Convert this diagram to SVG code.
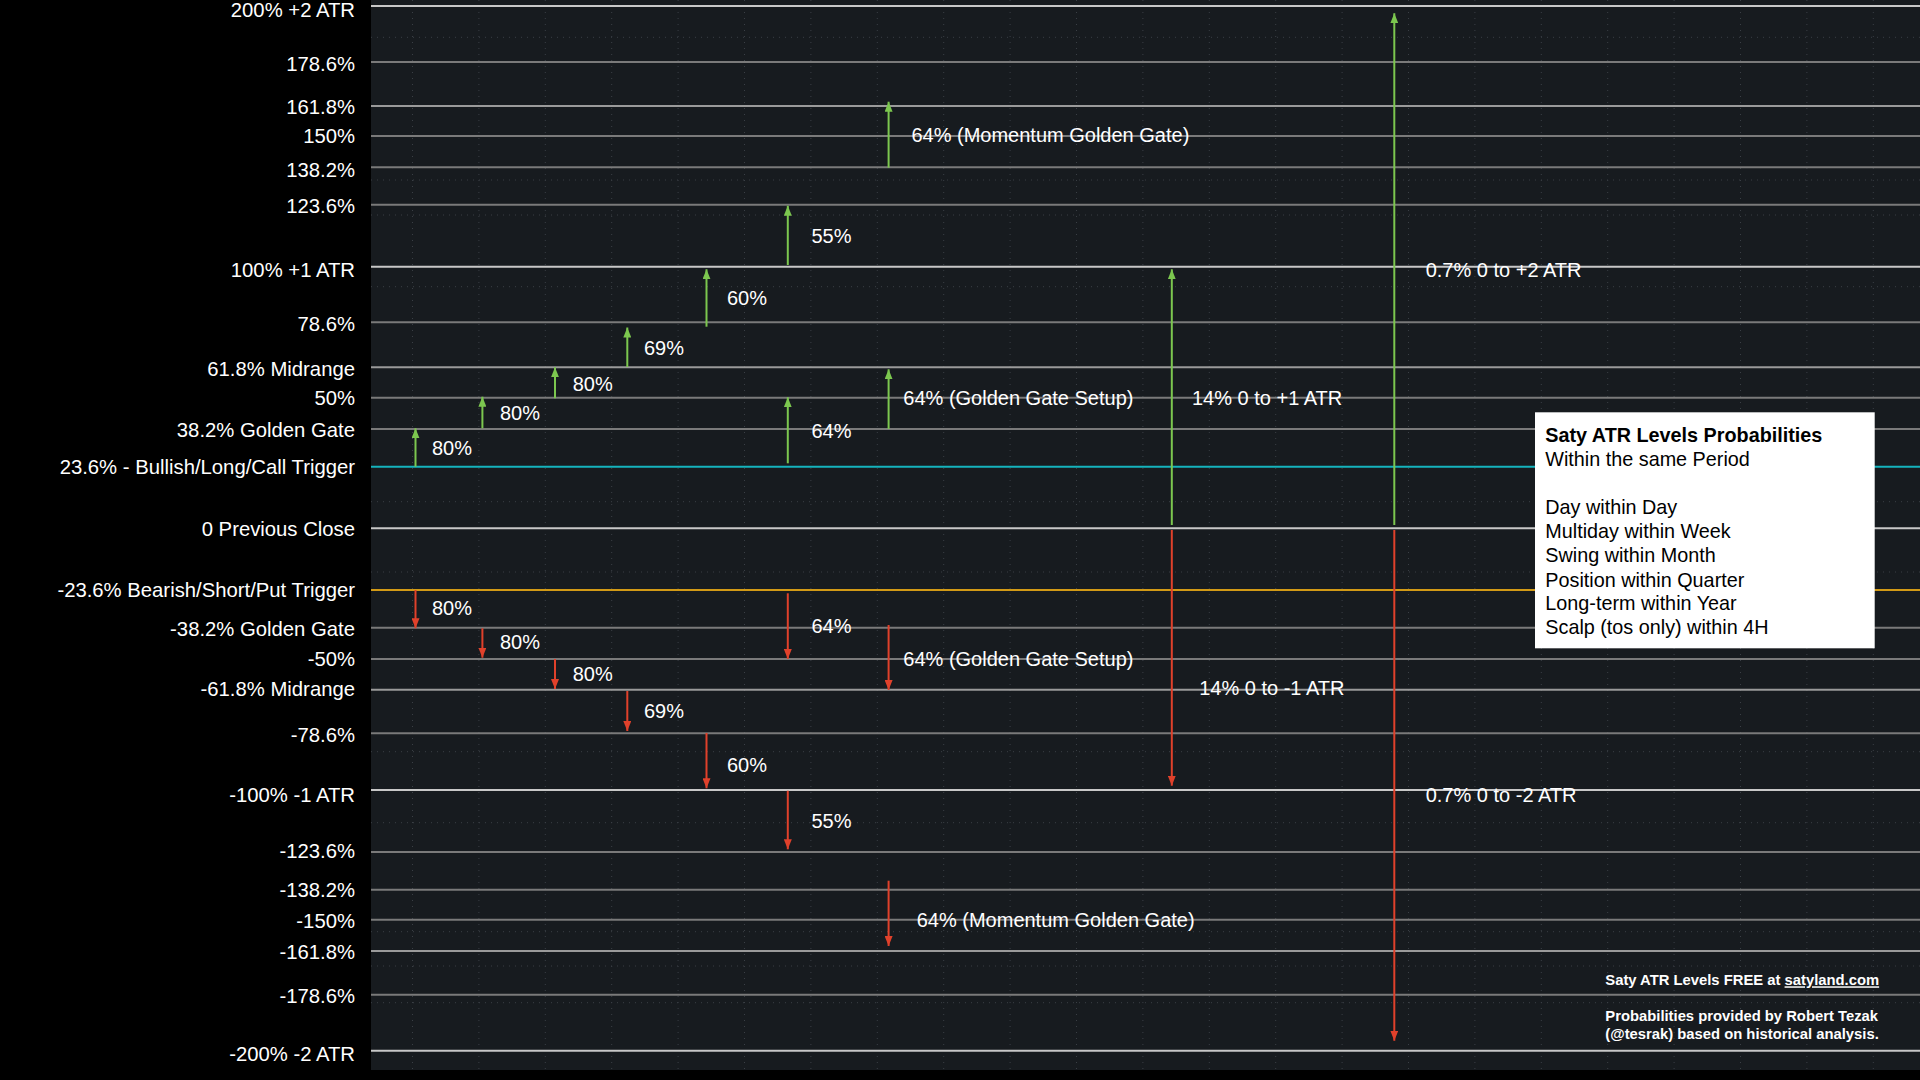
<svg xmlns="http://www.w3.org/2000/svg" width="1920" height="1080" viewBox="0 0 1920 1080">
<style>
.lbl{font-family:"Liberation Sans",Arial,sans-serif;font-size:20.3px;fill:#ffffff;text-anchor:end}
.t{font-family:"Liberation Sans",Arial,sans-serif;font-size:20px;fill:#ffffff}
.lv{stroke:#7a7a7a;stroke-width:2}
.mj{stroke:#c8c8c8;stroke-width:2}
.grid{stroke:#3a3f45;stroke-width:1;stroke-dasharray:1 5}
.up{stroke:#7cc74f;stroke-width:2;fill:none;marker-end:url(#ga)}
.dn{stroke:#e0412b;stroke-width:2;fill:none;marker-end:url(#ra)}
.lg{font-family:"Liberation Sans",Arial,sans-serif;font-size:19.8px;fill:#000000}
.ft{font-family:"Liberation Sans",Arial,sans-serif;font-size:14.8px;font-weight:bold;fill:#ffffff}
</style>
<defs>
<marker id="ga" markerUnits="userSpaceOnUse" markerWidth="10" markerHeight="8" refX="10" refY="4" orient="auto"><path d="M0,0 L10,4 L0,8 z" fill="#7cc74f"/></marker>
<marker id="ra" markerUnits="userSpaceOnUse" markerWidth="10" markerHeight="8" refX="10" refY="4" orient="auto"><path d="M0,0 L10,4 L0,8 z" fill="#e0412b"/></marker>
</defs>
<rect x="0" y="0" width="1920" height="1080" fill="#000000"/>
<rect x="371" y="0" width="1549" height="1070" fill="#171b1f"/>
<g id="grid">
<path class="grid" d="M412.5,0V1070M478.9,0V1070M545.3,0V1070M611.7,0V1070M678.1,0V1070M744.5,0V1070M810.9,0V1070M877.3,0V1070M943.7,0V1070M1010.1,0V1070M1076.5,0V1070M1142.9,0V1070M1209.3,0V1070M1275.7,0V1070M1342.1,0V1070M1408.5,0V1070M1474.9,0V1070M1541.3,0V1070M1607.7,0V1070M1674.1,0V1070M1740.5,0V1070M1806.9,0V1070M1873.3,0V1070"/>
<path class="grid" d="M371,37.3H1920M371,180H1920M371,215H1920M371,286.7H1920M371,501.7H1920M371,572H1920M371,751.7H1920M371,822.7H1920M371,931.7H1920M371,966H1920M371,1002.7H1920"/>
</g>
<g id="levels">
<g id="lv-p200"><line class="mj" x1="371" y1="6" x2="1920" y2="6"/><text class="lbl" x="355" y="17">200% +2 ATR</text></g>
<g id="lv-p1786"><line class="lv" x1="371" y1="62" x2="1920" y2="62"/><text class="lbl" x="355" y="70.5">178.6%</text></g>
<g id="lv-p1618"><line class="lv" x1="371" y1="106" x2="1920" y2="106" style="stroke:#9a9a9a"/><text class="lbl" x="355" y="114">161.8%</text></g>
<g id="lv-p150"><line class="lv" x1="371" y1="136" x2="1920" y2="136"/><text class="lbl" x="355" y="143">150%</text></g>
<g id="lv-p1382"><line class="lv" x1="371" y1="167.3" x2="1920" y2="167.3"/><text class="lbl" x="355" y="176.5">138.2%</text></g>
<g id="lv-p1236"><line class="lv" x1="371" y1="204.7" x2="1920" y2="204.7"/><text class="lbl" x="355" y="213">123.6%</text></g>
<g id="lv-p100"><line class="mj" x1="371" y1="266.7" x2="1920" y2="266.7"/><text class="lbl" x="355" y="276.5">100% +1 ATR</text></g>
<g id="lv-p786"><line class="lv" x1="371" y1="322.3" x2="1920" y2="322.3"/><text class="lbl" x="355" y="330.5">78.6%</text></g>
<g id="lv-p618"><line class="lv" x1="371" y1="367.3" x2="1920" y2="367.3" style="stroke:#9a9a9a"/><text class="lbl" x="355" y="375.5">61.8% Midrange</text></g>
<g id="lv-p50"><line class="lv" x1="371" y1="397.7" x2="1920" y2="397.7"/><text class="lbl" x="355" y="405">50%</text></g>
<g id="lv-p382"><line class="lv" x1="371" y1="429" x2="1920" y2="429"/><text class="lbl" x="355" y="437.3">38.2% Golden Gate</text></g>
<g id="lv-p236"><line x1="371" y1="466.7" x2="1920" y2="466.7" stroke="#15b3bd" stroke-width="2"/><text class="lbl" x="355" y="474.3">23.6% - Bullish/Long/Call Trigger</text></g>
<g id="lv-0"><line class="mj" x1="371" y1="528.3" x2="1920" y2="528.3"/><text class="lbl" x="355" y="535.7">0 Previous Close</text></g>
<g id="lv-m236"><line x1="371" y1="590" x2="1920" y2="590" stroke="#d29a16" stroke-width="2"/><text class="lbl" x="355" y="597.3">-23.6% Bearish/Short/Put Trigger</text></g>
<g id="lv-m382"><line class="lv" x1="371" y1="627.7" x2="1920" y2="627.7"/><text class="lbl" x="355" y="636">-38.2% Golden Gate</text></g>
<g id="lv-m50"><line class="lv" x1="371" y1="659" x2="1920" y2="659"/><text class="lbl" x="355" y="666">-50%</text></g>
<g id="lv-m618"><line class="lv" x1="371" y1="689.7" x2="1920" y2="689.7" style="stroke:#9a9a9a"/><text class="lbl" x="355" y="695.5">-61.8% Midrange</text></g>
<g id="lv-m786"><line class="lv" x1="371" y1="733.3" x2="1920" y2="733.3"/><text class="lbl" x="355" y="742.3">-78.6%</text></g>
<g id="lv-m100"><line class="mj" x1="371" y1="790" x2="1920" y2="790"/><text class="lbl" x="355" y="801.5">-100% -1 ATR</text></g>
<g id="lv-m1236"><line class="lv" x1="371" y1="852" x2="1920" y2="852"/><text class="lbl" x="355" y="858">-123.6%</text></g>
<g id="lv-m1382"><line class="lv" x1="371" y1="889.7" x2="1920" y2="889.7"/><text class="lbl" x="355" y="896.7">-138.2%</text></g>
<g id="lv-m150"><line class="lv" x1="371" y1="919.7" x2="1920" y2="919.7"/><text class="lbl" x="355" y="927.7">-150%</text></g>
<g id="lv-m1618"><line class="lv" x1="371" y1="951" x2="1920" y2="951" style="stroke:#9a9a9a"/><text class="lbl" x="355" y="959">-161.8%</text></g>
<g id="lv-m1786"><line class="lv" x1="371" y1="994.7" x2="1920" y2="994.7"/><text class="lbl" x="355" y="1002.7">-178.6%</text></g>
<g id="lv-m200"><line class="mj" x1="371" y1="1050.7" x2="1920" y2="1050.7"/><text class="lbl" x="355" y="1060.7">-200% -2 ATR</text></g>
</g>
<g id="connectors">
<line class="up" x1="415.5" y1="466.7" x2="415.5" y2="428.3"/>
<line class="up" x1="482.4" y1="428.3" x2="482.4" y2="396.7"/>
<line class="up" x1="555" y1="398.3" x2="555" y2="367.3"/>
<line class="up" x1="627.3" y1="367" x2="627.3" y2="327.5"/>
<line class="up" x1="706.5" y1="326.7" x2="706.5" y2="269.3"/>
<line class="up" x1="787.8" y1="265" x2="787.8" y2="205.7"/>
<line class="up" x1="888.6" y1="167.7" x2="888.6" y2="101.7"/>
<line class="up" x1="787.8" y1="463.3" x2="787.8" y2="397.3"/>
<line class="up" x1="888.6" y1="429" x2="888.6" y2="369.3"/>
<line class="up" x1="1171.8" y1="525" x2="1171.8" y2="269.3"/>
<line class="up" x1="1394.3" y1="525" x2="1394.3" y2="13.3"/>
<line class="dn" x1="415.5" y1="590" x2="415.5" y2="628.3"/>
<line class="dn" x1="482.4" y1="628.3" x2="482.4" y2="657.7"/>
<line class="dn" x1="555" y1="659" x2="555" y2="689"/>
<line class="dn" x1="627.3" y1="691" x2="627.3" y2="731"/>
<line class="dn" x1="706.5" y1="733" x2="706.5" y2="788.3"/>
<line class="dn" x1="787.8" y1="790.7" x2="787.8" y2="849.3"/>
<line class="dn" x1="888.6" y1="880.7" x2="888.6" y2="946"/>
<line class="dn" x1="787.8" y1="593.3" x2="787.8" y2="659"/>
<line class="dn" x1="888.6" y1="625" x2="888.6" y2="690"/>
<line class="dn" x1="1171.8" y1="530" x2="1171.8" y2="785.7"/>
<line class="dn" x1="1394.3" y1="530" x2="1394.3" y2="1040.7"/>
</g>
<g id="arrow-labels">
<text class="t" x="432" y="455">80%</text>
<text class="t" x="500" y="420">80%</text>
<text class="t" x="572.7" y="390.7">80%</text>
<text class="t" x="644" y="355">69%</text>
<text class="t" x="727" y="305">60%</text>
<text class="t" x="811.4" y="243.3">55%</text>
<text class="t" x="911.4" y="141.5">64% (Momentum Golden Gate)</text>
<text class="t" x="811.4" y="438.3">64%</text>
<text class="t" x="903.3" y="405">64% (Golden Gate Setup)</text>
<text class="t" x="1192" y="405">14% 0 to +1 ATR</text>
<text class="t" x="1425.7" y="276.7">0.7% 0 to +2 ATR</text>
<text class="t" x="432" y="615">80%</text>
<text class="t" x="500" y="649.3">80%</text>
<text class="t" x="572.7" y="681">80%</text>
<text class="t" x="644" y="718.3">69%</text>
<text class="t" x="727" y="771.7">60%</text>
<text class="t" x="811.4" y="828.3">55%</text>
<text class="t" x="916.7" y="927">64% (Momentum Golden Gate)</text>
<text class="t" x="811.4" y="633.3">64%</text>
<text class="t" x="903.3" y="666">64% (Golden Gate Setup)</text>
<text class="t" x="1199.2" y="695">14% 0 to -1 ATR</text>
<text class="t" x="1425.7" y="801.7">0.7% 0 to -2 ATR</text>
</g>
<g id="legend">
<rect x="1535" y="412.3" width="339.7" height="236" fill="#ffffff"/>
<text class="lg" x="1545.3" y="441.5" font-weight="bold">Saty ATR Levels Probabilities</text>
<text class="lg" x="1545.3" y="466">Within the same Period</text>
<text class="lg" x="1545.3" y="514.3">Day within Day</text>
<text class="lg" x="1545.3" y="538.3">Multiday within Week</text>
<text class="lg" x="1545.3" y="562">Swing within Month</text>
<text class="lg" x="1545.3" y="586.5">Position within Quarter</text>
<text class="lg" x="1545.3" y="610">Long-term within Year</text>
<text class="lg" x="1545.3" y="634">Scalp (tos only) within 4H</text>
</g>
<g id="footer">
<text class="ft" x="1605.3" y="985.3">Saty ATR Levels FREE at <tspan text-decoration="underline">satyland.com</tspan></text>
<text class="ft" x="1605.3" y="1021">Probabilities provided by Robert Tezak</text>
<text class="ft" x="1605.3" y="1039.3">(@tesrak) based on historical analysis.</text>
</g>
</svg>
